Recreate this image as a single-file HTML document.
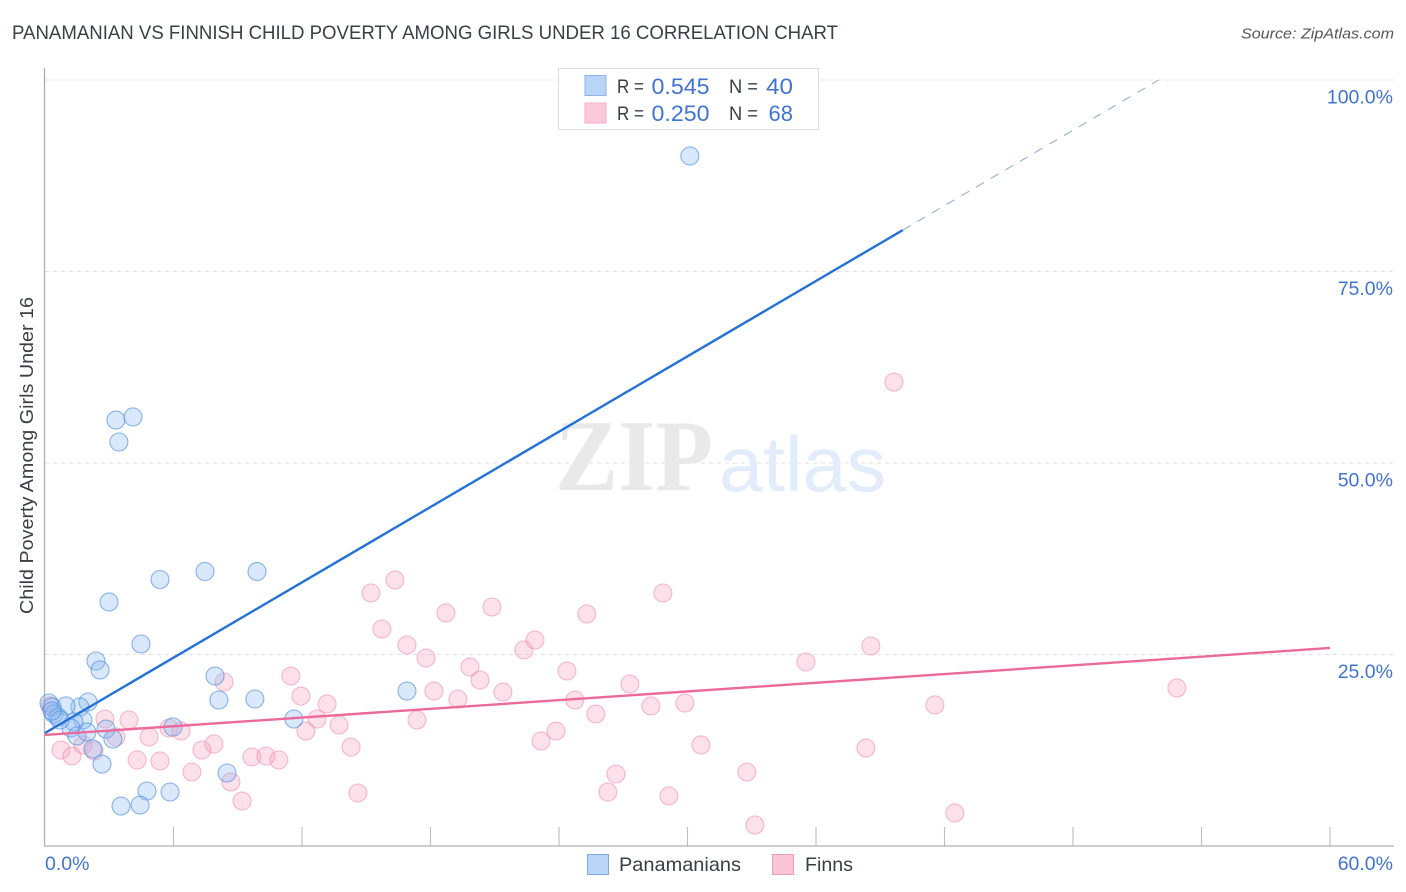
<!DOCTYPE html>
<html lang="en">
<head>
<meta charset="utf-8">
<title>Panamanian vs Finnish Child Poverty Among Girls Under 16 Correlation Chart</title>
<style>
html,body{margin:0;padding:0;background:#fff;}
svg{display:block;font-family:"Liberation Sans",sans-serif;}
</style>
</head>
<body>
<svg id="chart" xmlns="http://www.w3.org/2000/svg" width="1406" height="892" viewBox="0 0 1406 892">
  <rect x="0" y="0" width="1406" height="892" fill="#ffffff"/>
  <text x="12" y="39" font-size="19.5" fill="#3a3e45" textLength="826" lengthAdjust="spacingAndGlyphs">PANAMANIAN VS FINNISH CHILD POVERTY AMONG GIRLS UNDER 16 CORRELATION CHART</text>
  <text x="1241" y="38.5" font-size="15" font-style="italic" fill="#555" textLength="153" lengthAdjust="spacingAndGlyphs">Source: ZipAtlas.com</text>

  <g id="grid"></g>

  <g>
    <text x="555" y="490" font-family="'Liberation Serif',serif" font-weight="bold" font-size="102" fill="#e9e9e9" textLength="158" lengthAdjust="spacingAndGlyphs">ZIP</text>
    <text x="719" y="491" font-size="78" fill="#e3ecfa" textLength="167" lengthAdjust="spacingAndGlyphs">atlas</text>
  </g>

  <g id="axes"></g>
  <g id="points-finns"></g>
  <g id="points-panamanians"></g>
  <g id="trends"></g>
  <g id="tick-labels"></g>

  <text transform="translate(33,614) rotate(-90)" font-size="18.5" fill="#3a3e45" textLength="317" lengthAdjust="spacingAndGlyphs">Child Poverty Among Girls Under 16</text>

  <g>
    <rect x="558.5" y="68.5" width="260" height="61" fill="#ffffff" fill-opacity="0.9" stroke="#dddddd" stroke-width="1"/>
    <rect x="585" y="75.5" width="21" height="20" fill="#b9d4f7" stroke="#8fb3e6" stroke-width="1"/>
    <rect x="585" y="103" width="21" height="20" fill="#fbc9d9" stroke="#f3afc6" stroke-width="1"/>
    <text x="617" y="93" font-size="19" fill="#3a3e45" textLength="27" lengthAdjust="spacingAndGlyphs">R =</text>
    <text x="651.5" y="94" font-size="22" fill="#3f74d2" textLength="58" lengthAdjust="spacingAndGlyphs">0.545</text>
    <text x="729" y="93" font-size="19" fill="#3a3e45" textLength="29" lengthAdjust="spacingAndGlyphs">N =</text>
    <text x="766" y="94" font-size="22" fill="#3f74d2" textLength="27" lengthAdjust="spacingAndGlyphs">40</text>
    <text x="617" y="120" font-size="19" fill="#3a3e45" textLength="27" lengthAdjust="spacingAndGlyphs">R =</text>
    <text x="651.5" y="121" font-size="22" fill="#3f74d2" textLength="58" lengthAdjust="spacingAndGlyphs">0.250</text>
    <text x="729" y="120" font-size="19" fill="#3a3e45" textLength="29" lengthAdjust="spacingAndGlyphs">N =</text>
    <text x="768.5" y="121" font-size="22" fill="#3f74d2" textLength="24.5" lengthAdjust="spacingAndGlyphs">68</text>
  </g>

  <g>
    <rect x="587.5" y="854.5" width="21" height="20" fill="#b9d4f7" stroke="#7ea8e4" stroke-width="1"/>
    <text x="619" y="871" font-size="19.5" fill="#3a3e45" textLength="122" lengthAdjust="spacingAndGlyphs">Panamanians</text>
    <rect x="772.5" y="854.5" width="21" height="20" fill="#fbc5d8" stroke="#ee9db8" stroke-width="1"/>
    <text x="805" y="871" font-size="19.5" fill="#3a3e45" textLength="48" lengthAdjust="spacingAndGlyphs">Finns</text>
  </g>
</svg>
<script>
// Chart data
const panamaniansX = [30.11,3.31,4.11,3.45,5.37,7.47,9.90,2.99,4.48,2.38,2.57,7.94,8.12,9.80,16.90,11.62,2.01,1.63,0.98,1.77,1.35,1.21,1.49,1.96,2.85,3.17,5.98,2.24,2.66,8.50,4.76,5.84,3.55,4.44,0.19,0.33,0.42,0.61,0.70,0.33];
const panamaniansY = [90.08,55.61,56.01,52.74,34.79,35.84,35.84,31.85,26.37,24.15,22.98,22.19,19.06,19.19,20.23,16.58,18.80,18.15,18.28,16.45,16.19,15.40,14.36,14.88,15.27,13.97,15.54,12.66,10.70,9.53,7.18,7.05,5.22,5.35,18.67,18.15,17.23,16.84,16.45,17.62];
const finnsX = [0.75,1.26,1.77,2.29,3.31,2.80,3.92,4.86,4.30,5.37,5.79,6.35,7.33,7.89,6.86,8.68,9.20,8.36,9.66,10.32,10.92,12.18,11.95,11.48,12.70,13.17,13.73,14.29,14.61,15.22,16.34,15.73,16.90,17.79,18.16,17.37,18.72,20.87,19.28,19.84,20.31,21.38,22.36,22.88,23.16,23.86,24.37,24.74,25.30,25.72,26.28,26.66,27.31,28.29,28.85,29.13,29.88,30.63,32.77,33.15,35.53,38.56,38.33,39.64,41.55,42.48,52.85,0.23];
const finnsY = [12.53,11.75,13.19,12.40,14.23,16.58,16.45,14.23,11.23,11.10,15.40,15.01,12.53,13.32,9.66,8.36,5.87,21.41,11.62,11.75,11.23,15.01,19.58,22.19,16.58,18.54,15.80,12.92,6.92,33.03,34.73,28.33,26.24,24.54,20.23,16.45,30.42,31.20,19.19,23.37,21.67,20.10,25.59,26.89,13.71,15.01,22.85,19.06,30.29,17.23,7.05,9.40,21.15,18.28,33.03,6.53,18.67,13.19,9.66,2.74,24.02,26.11,12.79,60.57,18.41,4.31,20.63,18.28];
const panamaniansTrendX = [0, 40.05];
const panamaniansTrendY = [14.75, 80.4];
const panamaniansDashX = [40.05, 52.0];
const panamaniansDashY = [80.4, 100];
const finnsTrendX = [0, 60];
const finnsTrendY = [14.5, 25.85];
const yTickValues = [25, 50, 75, 100];
const yTickLabels = ["25.0%", "50.0%", "75.0%", "100.0%"];
const xTickValues = [6, 12, 18, 24, 30, 36, 42, 48, 54, 60];
const xEndLabels = ["0.0%", "60.0%"];

// Axis functions
function xScale(v) { return 45 + v * (1330 - 45) / 60; }
function yScale(v) { return 846 - v * (846 - 80) / 100; }

const NS = "http://www.w3.org/2000/svg";
function make(tag, parent, attrs) {
  const el = document.createElementNS(NS, tag);
  for (const k in attrs) el.setAttribute(k, attrs[k]);
  parent.appendChild(el);
  return el;
}

const grid = document.getElementById("grid");
yTickValues.forEach(function (v) {
  const line = make("line", grid, { x1: 45, x2: 1394, y1: yScale(v), y2: yScale(v), stroke: "#e0e0e0", "stroke-width": 1, "stroke-dasharray": "4 4" });
  
  
});

const axes = document.getElementById("axes");
const yAxisLine = make("line", axes, { x1: 44.5, x2: 44.5, y1: 68, y2: 846, stroke: "#b0b0b0", "stroke-width": 1.3 });


const xAxisLine = make("line", axes, { x1: 44, x2: 1394, y1: 846, y2: 846, stroke: "#b0b0b0", "stroke-width": 1.3 });


xTickValues.forEach(function (v) {
  const tick = make("line", axes, { x1: xScale(v), x2: xScale(v), y1: 827, y2: 846, stroke: "#bcbcbc", "stroke-width": 1.1 });
  
  
});

const finnsGroup = document.getElementById("points-finns");
finnsX.forEach(function (x, i) {
  const c = make("circle", finnsGroup, { cx: xScale(x), cy: yScale(finnsY[i]), r: 9, fill: "#f7a9c4", "fill-opacity": 0.36, stroke: "#ec85a8", "stroke-opacity": 0.55, "stroke-width": 1.1 });
  
  
});

const panGroup = document.getElementById("points-panamanians");
panamaniansX.forEach(function (x, i) {
  const c = make("circle", panGroup, { cx: xScale(x), cy: yScale(panamaniansY[i]), r: 9, fill: "#8cb9f0", "fill-opacity": 0.33, stroke: "#4f8ee0", "stroke-opacity": 0.65, "stroke-width": 1.1 });
  
  
});

const trends = document.getElementById("trends");
const panTrend = make("line", trends, { x1: xScale(panamaniansTrendX[0]), y1: yScale(panamaniansTrendY[0]), x2: xScale(panamaniansTrendX[1]), y2: yScale(panamaniansTrendY[1]), stroke: "#2472d8", "stroke-width": 2.4 });


const panDash = make("line", trends, { x1: xScale(panamaniansDashX[0]), y1: yScale(panamaniansDashY[0]), x2: xScale(panamaniansDashX[1]), y2: yScale(panamaniansDashY[1]), stroke: "#8aa6d4", "stroke-width": 1, "stroke-dasharray": "9 8" });


const finnTrend = make("line", trends, { x1: xScale(finnsTrendX[0]), y1: yScale(finnsTrendY[0]), x2: xScale(finnsTrendX[1]), y2: yScale(finnsTrendY[1]), stroke: "#ec6a9b", "stroke-width": 2.4 });



const labels = document.getElementById("tick-labels");
yTickLabels.forEach(function (label, i) {
  const t = make("text", labels, { x: 1393, y: yScale(yTickValues[i]) + 23.5, "text-anchor": "end", "font-size": 19.5, fill: "#3f74d2" });
  t.textContent = label;
  
  
});
const xStart = make("text", labels, { x: 45, y: 870, "font-size": 19.5, fill: "#3f74d2" });
xStart.textContent = xEndLabels[0];


const xEnd = make("text", labels, { x: 1393, y: 870, "text-anchor": "end", "font-size": 19.5, fill: "#3f74d2" });
xEnd.textContent = xEndLabels[1];


</script>
</body>
</html>
